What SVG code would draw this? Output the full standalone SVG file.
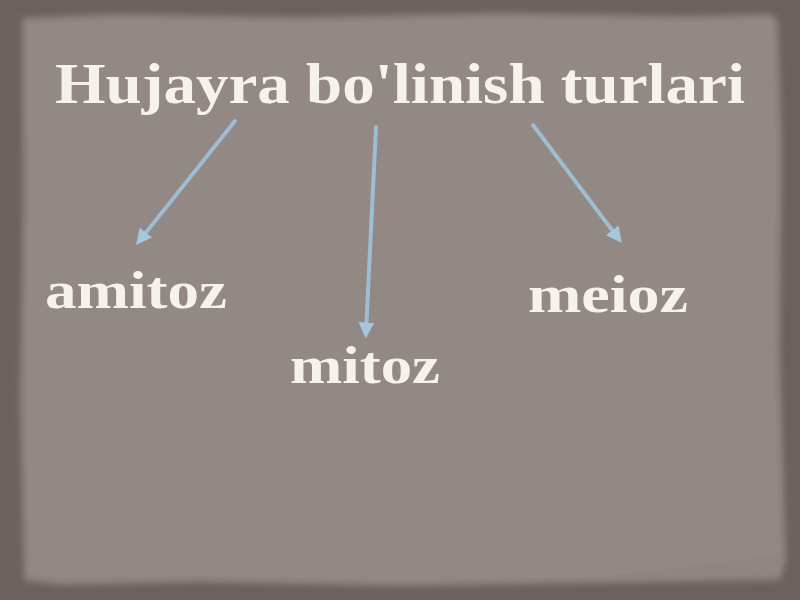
<svg xmlns="http://www.w3.org/2000/svg" width="800" height="600" viewBox="0 0 800 600">
<defs>
<style>
.t{font-family:"Liberation Serif","DejaVu Serif",serif;font-weight:bold;fill:#f5f1ed}
.a{stroke:#9dbdd3;stroke-width:4;stroke-linecap:round;fill:none}
</style>
<marker id="ah" viewBox="0 0 10 10" refX="6" refY="5" markerWidth="4" markerHeight="4" orient="auto" markerUnits="strokeWidth">
<path d="M0,0 L10,5 L0,10 z" fill="#a6c6dc"/>
</marker>
<filter id="blur"><feGaussianBlur stdDeviation="3"/></filter>
</defs>
<rect x="0" y="0" width="800" height="600" fill="#6d615d"/>
<path d="M22,18 L120,14 L300,17 L500,13 L690,16 L770,14 L778,20 L782,150 L780,350 L786,560 L780,580 L600,583 L400,586 L200,582 L60,585 L24,580 L20,400 L23,200 Z" fill="#8f8582" filter="url(#blur)"/>
<path d="M28,24 L120,20 L300,23 L500,19 L690,22 L772,20 L776,150 L774,350 L779,556 L600,577 L400,580 L200,576 L60,578 L30,574 L26,400 L29,200 Z" fill="#928884"/>
<g id="title"><text class="t" x="55" y="103" font-size="58" textLength="690" lengthAdjust="spacingAndGlyphs">Hujayra bo'linish turlari</text></g>
<g id="connectors">
<line class="a" x1="235" y1="121" x2="140" y2="240" marker-end="url(#ah)"/>
<line class="a" x1="376" y1="127" x2="366" y2="332" marker-end="url(#ah)"/>
<line class="a" x1="533" y1="125" x2="618" y2="238" marker-end="url(#ah)"/>
</g>
<g id="amitoz"><text class="t" x="45" y="308" font-size="52" textLength="182" lengthAdjust="spacingAndGlyphs">amitoz</text></g>
<g id="mitoz"><text class="t" x="290" y="383" font-size="52" textLength="150" lengthAdjust="spacingAndGlyphs">mitoz</text></g>
<g id="meioz"><text class="t" x="528" y="312" font-size="52" textLength="160" lengthAdjust="spacingAndGlyphs">meioz</text></g>
</svg>
